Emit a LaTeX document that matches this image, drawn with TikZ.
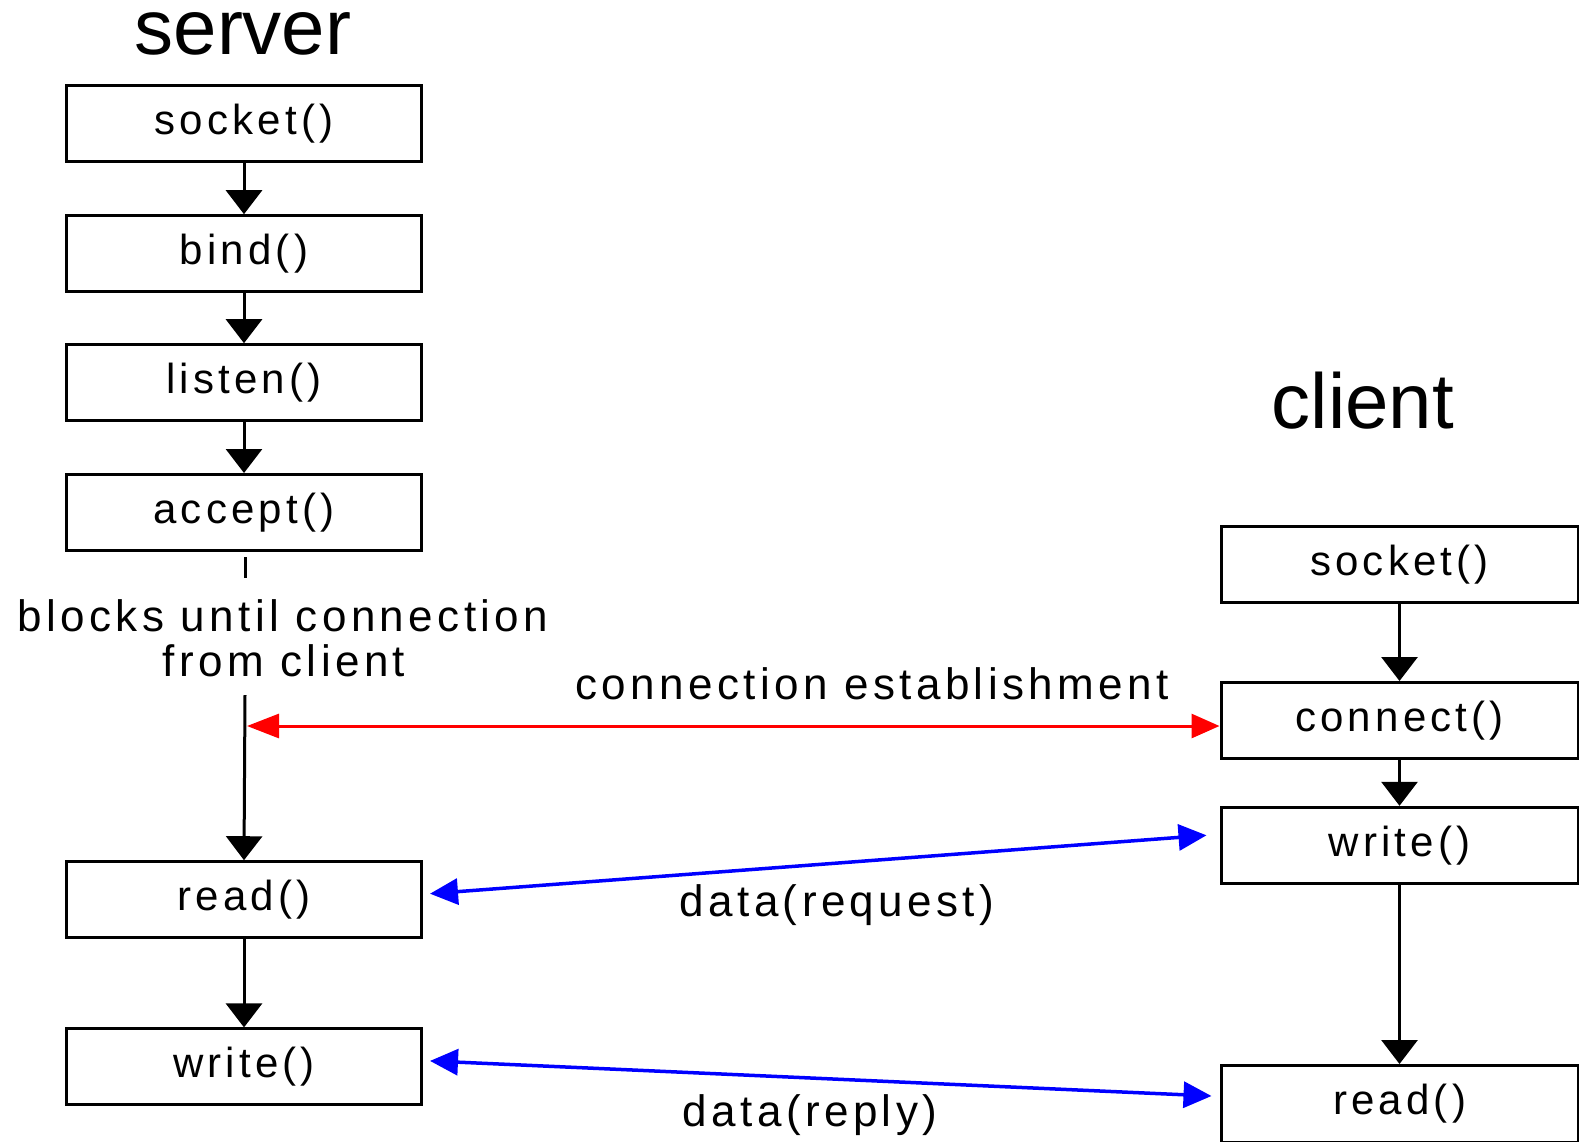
\documentclass[tikz,border=0pt]{standalone}
\usepackage{fontspec}
\setmainfont{Liberation Sans}
\newfontfamily\pixfont[LetterSpace=10]{Liberation Sans}
\usetikzlibrary{arrows.meta}
\begin{document}
\begin{tikzpicture}[x=1pt,y=-1pt,
  box/.style={draw, line width=3pt, minimum height=76pt, inner sep=0pt,
    font=\pixfont\fontsize{42}{50}\selectfont},
  sbox/.style={box, minimum width=355pt},
  cbox/.style={box, minimum width=357pt},
  flow/.style={line width=3pt, -{Triangle[width=36pt,length=24pt]}},
  lbl/.style={anchor=base, inner sep=0pt, font=\pixfont\fontsize{44}{50}\selectfont},
  title/.style={anchor=base, inner sep=0pt, font=\fontsize{78}{90}\selectfont},
  redarr/.style={draw=red, line width=3pt, {Triangle[width=24pt,length=32pt]}-{Triangle[width=24pt,length=28pt]}, red},
  bluearr/.style={draw=blue, line width=3.5pt, {Triangle[width=26pt,length=28pt]}-{Triangle[width=26pt,length=28pt]}, blue}]
\useasboundingbox[fill=white] (0,0) rectangle (1579,1141);
\begin{scope}
\clip (0,0) rectangle (1579,1141);
% titles
\node[title] (tserver) at (243,54) {server};
\node[title] (tclient) at (1363,428) {client};
% server boxes
\node[sbox] (s1) at (244,123.3) {socket()};
\node[sbox] (s2) at (244,253.7) {bind()};
\node[sbox] (s3) at (244,382.7) {listen()};
\node[sbox] (s4) at (244,512.5) {accept()};
\node[sbox] (s5) at (244,899.7) {read()};
\node[sbox] (s6) at (244,1066.9) {write()};
% client boxes
\node[cbox] (c1) at (1399.5,564.4) {socket()};
\node[cbox] (c2) at (1399.5,720.5) {connect()};
\node[cbox] (c3) at (1399.5,845.3) {write()};
\node[cbox, minimum height=77pt] (c4) at (1399.5,1104) {read()};
% labels
\node[lbl] (lb1) at (283,631) {blocks until connection};
\node[lbl] (lb2) at (284,676) {from client};
\node[lbl] (lce) at (872,699) {connection establishment};
\node[lbl] (ldq) at (837,916) {data(request)};
\node[lbl] (ldr) at (810,1126) {data(reply)};
% server flow
\draw[flow] (s1.south) -- (s2.north);
\draw[flow] (s2.south) -- (s3.north);
\draw[flow] (s3.south) -- (s4.north);
\coordinate (t1) at (245,557);
\coordinate (t2) at (245,578);
\draw[line width=3pt] (t1) -- (t2);
\coordinate (w0) at (245,695);
\draw[flow] (w0) -- (s5.north);
\draw[flow] (s5.south) -- (s6.north);
% client flow
\draw[flow] (c1.south) -- (c2.north);
\draw[flow] (c2.south) -- (c3.north);
\draw[flow] (c3.south) -- (c4.north);
% connection establishment
\coordinate (rj) at (247,726);
\draw[redarr] (rj) -- ([yshift=-5.5pt]c2.west);
% data
\draw[bluearr] ([xshift=7pt,yshift=6pt]s5.east) -- ([xshift=-13pt,yshift=10pt]c3.west);
\draw[bluearr] ([xshift=7pt,yshift=6pt]s6.east) -- ([xshift=-8pt,yshift=8pt]c4.west);
\end{scope}
\end{tikzpicture}
\end{document}
